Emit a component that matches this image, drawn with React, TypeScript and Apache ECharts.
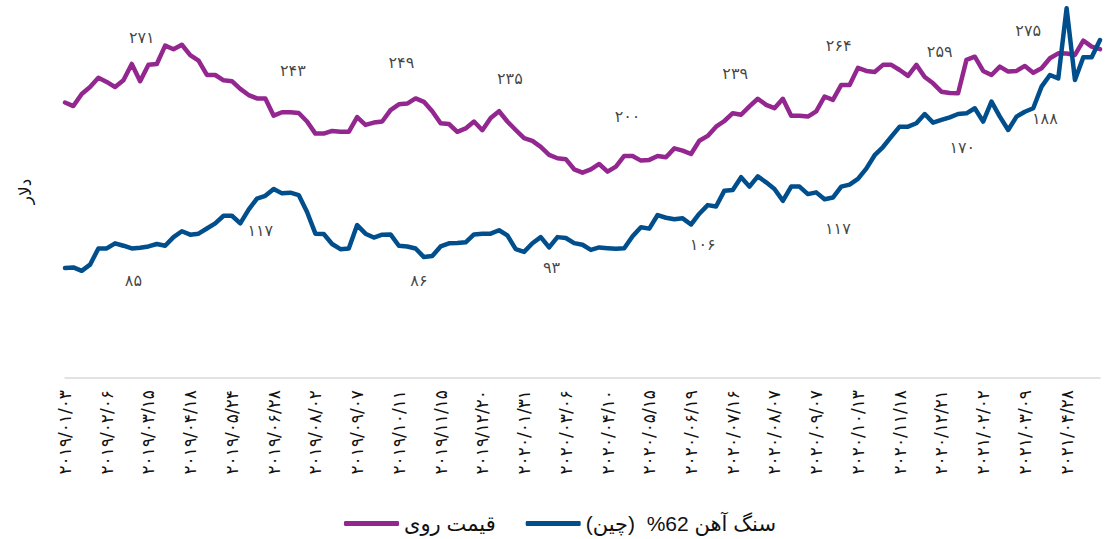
import React, { useEffect, useRef } from "react";
import * as echarts from "echarts";

// x-axis tick labels (every 5th weekly observation)
const dateLabels = [
  "۲۰۱۹/۰۱/۰۳", "۲۰۱۹/۰۲/۰۶", "۲۰۱۹/۰۳/۱۵", "۲۰۱۹/۰۴/۱۸", "۲۰۱۹/۰۵/۲۴",
  "۲۰۱۹/۰۶/۲۸", "۲۰۱۹/۰۸/۰۲", "۲۰۱۹/۰۹/۰۷", "۲۰۱۹/۱۰/۱۱", "۲۰۱۹/۱۱/۱۵",
  "۲۰۱۹/۱۲/۲۰", "۲۰۲۰/۰۱/۳۱", "۲۰۲۰/۰۳/۰۶", "۲۰۲۰/۰۴/۱۰", "۲۰۲۰/۰۵/۱۵",
  "۲۰۲۰/۰۶/۱۹", "۲۰۲۰/۰۷/۱۶", "۲۰۲۰/۰۸/۰۷", "۲۰۲۰/۰۹/۰۷", "۲۰۲۰/۱۰/۱۳",
  "۲۰۲۰/۱۱/۱۸", "۲۰۲۰/۱۲/۲۱", "۲۰۲۱/۰۲/۰۲", "۲۰۲۱/۰۳/۰۹", "۲۰۲۱/۰۴/۲۸",
];

const zincName = "قیمت روی";
const ironName = "سنگ آهن 62%  (چین)";
const yAxisName = "دلار";

// zinc price (purple)
const zinc = [
  235.1, 233.1, 239.9, 243.8, 249.0, 246.7, 243.8, 247.6, 256.8, 247.1,
  256.4, 256.8, 267.1, 265.1, 267.6, 261.8, 258.7, 250.6, 250.6, 247.6,
  247.1, 242.8, 239.3, 237.4, 237.4, 227.7, 229.6, 229.6, 229.2, 224.4,
  217.6, 217.6, 219.1, 218.6, 218.6, 226.9, 222.5, 223.8, 224.4, 230.8,
  234.1, 234.5, 237.4, 235.5, 230.2, 223.4, 223.0, 218.6, 220.5, 224.4,
  219.5, 226.4, 230.2, 224.4, 219.6, 215.0, 213.5, 210.1, 205.6, 203.7,
  203.2, 197.5, 195.6, 197.5, 200.5, 196.2, 199.0, 205.0, 205.0, 202.4,
  202.8, 205.0, 204.3, 209.3, 208.0, 206.1, 213.6, 216.3, 221.5, 224.7,
  229.1, 228.2, 232.9, 237.2, 233.8, 231.9, 237.2, 227.6, 227.6, 227.2,
  230.1, 238.5, 236.6, 245.0, 245.0, 254.6, 252.9, 252.3, 256.3, 256.3,
  253.4, 250.1, 256.3, 249.5, 245.9, 241.2, 240.5, 240.3, 259.1, 260.9,
  252.9, 250.6, 255.3, 252.5, 252.9, 255.7, 251.9, 254.4, 260.0, 262.8,
  262.7, 261.9, 269.9, 266.6, 265.1,
];

// iron ore 62% China (blue)
const iron = [
  76.6, 77.1, 74.7, 79.0, 90.3, 90.3, 93.9, 92.2, 90.3, 90.8,
  91.7, 93.4, 92.2, 98.2, 102.3, 99.9, 100.6, 104.2, 107.8, 113.1,
  113.1, 107.8, 117.4, 125.1, 127.0, 131.8, 128.7, 129.2, 127.5, 115.7,
  100.6, 100.4, 93.4, 89.8, 90.3, 106.6, 100.6, 97.9, 99.9, 100.1,
  92.2, 91.7, 90.3, 84.3, 85.0, 91.7, 93.9, 94.1, 94.6, 100.1,
  100.6, 100.6, 103.0, 99.4, 89.8, 87.9, 93.9, 98.2, 91.0, 98.2,
  97.6, 94.0, 92.9, 89.3, 91.0, 90.5, 90.1, 90.5, 98.8, 105.1,
  104.1, 113.6, 111.7, 110.6, 111.3, 107.0, 114.5, 120.5, 119.5, 130.6,
  131.1, 140.0, 133.4, 140.5, 136.4, 131.8, 123.5, 133.4, 133.4, 128.2,
  129.4, 124.6, 125.8, 133.4, 134.8, 138.8, 145.9, 155.3, 161.0, 168.2,
  175.2, 175.2, 177.6, 184.0, 178.0, 179.9, 181.7, 184.0, 184.5, 188.0,
  178.7, 192.6, 182.2, 172.9, 182.2, 185.6, 188.0, 203.1, 211.2, 208.9,
  257.7, 207.7, 223.6, 223.6, 235.6,
];

// annotation texts and where they sit (in data units: observation index, value)
const zincNotes = ["۲۷۱", "۲۴۳", "۲۴۹", "۲۳۵", "۲۰۰", "۲۳۹", "۲۶۴", "۲۵۹", "۲۷۵"];
const zincNoteAt = [
  [9.2, 271.9], [27.3, 253.4], [40.3, 257.4], [53.3, 248.6], [67.4, 227.5],
  [80.3, 251.2], [92.7, 267.0], [104.8, 263.6], [115.4, 275.4],
];
const ironNotes = ["۸۵", "۱۱۷", "۸۶", "۹۳", "۱۰۶", "۱۱۷", "۱۷۰", "۱۸۸"];
const ironNoteAt = [
  [8.2, 68.3], [23.4, 102.5], [42.4, 68.3], [58.3, 76.7], [76.4, 93.4],
  [92.6, 103.9], [107.5, 161.0], [117.4, 181.2],
];

const PURPLE = "#93278F";
const BLUE = "#004F8C";

export default function App() {
  const ref = useRef<HTMLDivElement>(null);

  useEffect(() => {
    document.body.style.margin = "0";
    if (!ref.current) return;
    const chart = echarts.init(ref.current, undefined, { renderer: "svg" });
    const noteLabel = {
      show: true,
      position: "inside" as const,
      fontSize: 16,
      color: "#111",
      fontFamily: "DejaVu Sans",
      formatter: (p: any) => p.value[2],
    };
    chart.setOption({
      animation: false,
      grid: { left: 65, right: 20, top: 5, bottom: 161, containLabel: false },
      legend: {
        data: [zincName, ironName],
        left: "center",
        top: 508,
        icon: "roundRect",
        itemWidth: 55,
        itemHeight: 5,
        itemGap: 30,
        textStyle: {
          fontSize: 21,
          color: "#111",
          fontFamily: "Liberation Sans, DejaVu Sans",
        },
      },
      xAxis: {
        type: "value",
        min: 0,
        max: zinc.length - 1,
        interval: 5,
        axisLine: { show: true, onZero: false, lineStyle: { color: "#d9d9d9", width: 1.5 } },
        axisTick: { show: false },
        splitLine: { show: false },
        axisLabel: {
          rotate: 90,
          margin: 12,
          fontSize: 17,
          color: "#111",
          fontFamily: "DejaVu Sans",
          showMaxLabel: false,
          formatter: (v: number) =>
            v % 5 === 0 && dateLabels[v / 5] ? dateLabels[v / 5] : "",
        },
      },
      yAxis: [
        {
          type: "value",
          min: 80,
          max: 290,
          axisLine: { show: false },
          axisTick: { show: false },
          axisLabel: { show: false },
          splitLine: { show: false },
          name: yAxisName,
          nameLocation: "middle",
          nameRotate: 90,
          nameGap: 32,
          nameTextStyle: { fontSize: 17, color: "#111", fontFamily: "DejaVu Sans" },
        },
        {
          type: "value",
          min: 0,
          max: 260,
          axisLine: { show: false },
          axisTick: { show: false },
          axisLabel: { show: false },
          splitLine: { show: false },
        },
      ],
      series: [
        {
          name: zincName,
          type: "line",
          yAxisIndex: 0,
          data: zinc.map((v, i) => [i, v]),
          showSymbol: false,
          itemStyle: { color: PURPLE },
          lineStyle: { color: PURPLE, width: 4.5, cap: "round", join: "round" },
        },
        {
          name: ironName,
          type: "line",
          yAxisIndex: 1,
          data: iron.map((v, i) => [i, v]),
          showSymbol: false,
          itemStyle: { color: BLUE },
          lineStyle: { color: BLUE, width: 4.5, cap: "round", join: "round" },
        },
        {
          name: "zincNotes",
          type: "scatter",
          yAxisIndex: 0,
          silent: true,
          symbolSize: 1,
          itemStyle: { color: "rgba(0,0,0,0)" },
          data: zincNotes.map((t, i) => [zincNoteAt[i][0], zincNoteAt[i][1], t]),
          label: noteLabel,
        },
        {
          name: "ironNotes",
          type: "scatter",
          yAxisIndex: 1,
          silent: true,
          symbolSize: 1,
          itemStyle: { color: "rgba(0,0,0,0)" },
          data: ironNotes.map((t, i) => [ironNoteAt[i][0], ironNoteAt[i][1], t]),
          label: noteLabel,
        },
      ],
    });
    return () => chart.dispose();
  }, []);

  return <div ref={ref} style={{ width: 1120, height: 539 }} />;
}
